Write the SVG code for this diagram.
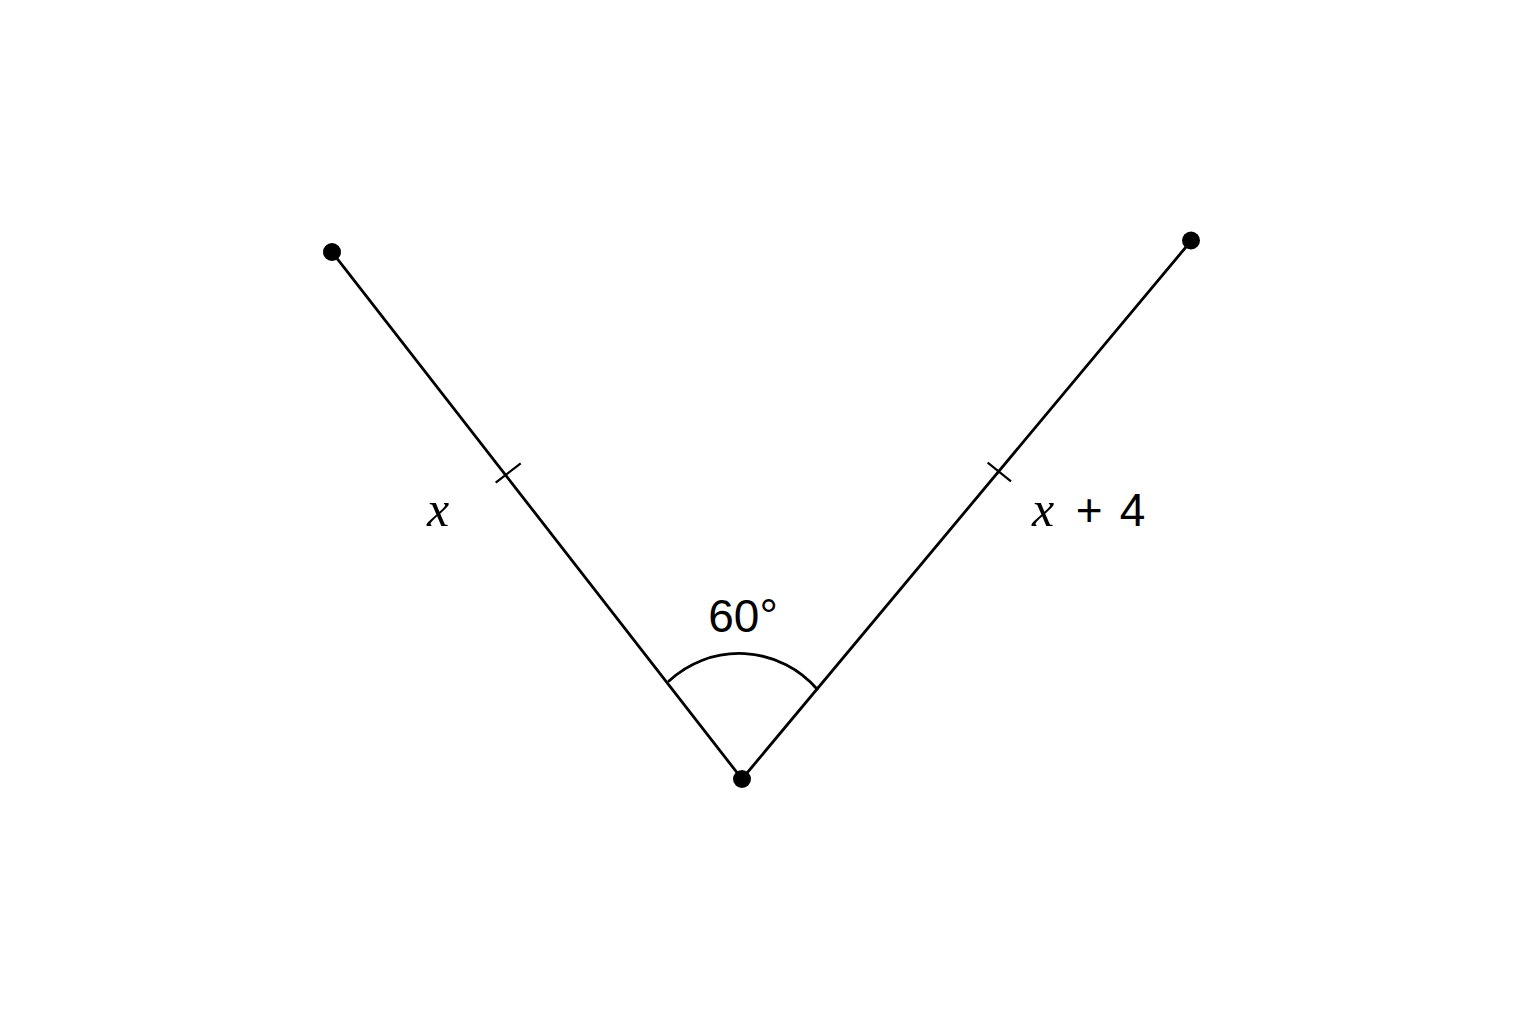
<svg xmlns="http://www.w3.org/2000/svg" width="1536" height="1024" viewBox="0 0 1536 1024">
  <style>
    .ln { stroke: #000; stroke-width: 2.8; fill: none; stroke-linecap: round; }
    .tick { stroke: #000; stroke-width: 2.2; fill: none; }
    .pt { fill: #000; }
    .var { font-family: "Liberation Serif", "DejaVu Serif", serif; font-style: italic; font-size: 50px; fill: #000; }
    .num { font-family: "Liberation Sans", Arial, sans-serif; font-size: 46px; fill: #000; }
  </style>
  <rect width="1536" height="1024" fill="#fff"/>
  <g id="connectors">
    <line class="ln" x1="332" y1="252" x2="742" y2="779"/>
    <line class="ln" x1="742" y1="779" x2="1191" y2="241"/>
    <line class="tick" x1="495.7" y1="482.7" x2="520.7" y2="463.3"/>
    <line class="tick" x1="987.7" y1="462.7" x2="1011" y2="481.3"/>
    <path class="ln" d="M669,681 A103,103 0 0 1 817,689" stroke-width="2.3"/>
  </g>
  <g id="pointA"><circle class="pt" cx="332" cy="252" r="9"/></g>
  <g id="pointB"><circle class="pt" cx="1191" cy="240.5" r="9"/></g>
  <g id="vertex"><circle class="pt" cx="742" cy="779" r="9"/></g>
  <g id="labelLeft"><text class="var" x="438" y="526" text-anchor="middle">x</text></g>
  <g id="labelRight"><text x="1032" y="526"><tspan class="var">x</tspan><tspan class="num" x="1063" font-size="50"> +</tspan><tspan class="num" x="1107" font-size="50"> 4</tspan></text></g>
  <g id="labelAngle"><text class="num" x="743" y="632" text-anchor="middle" font-size="44">60°</text></g>
</svg>
